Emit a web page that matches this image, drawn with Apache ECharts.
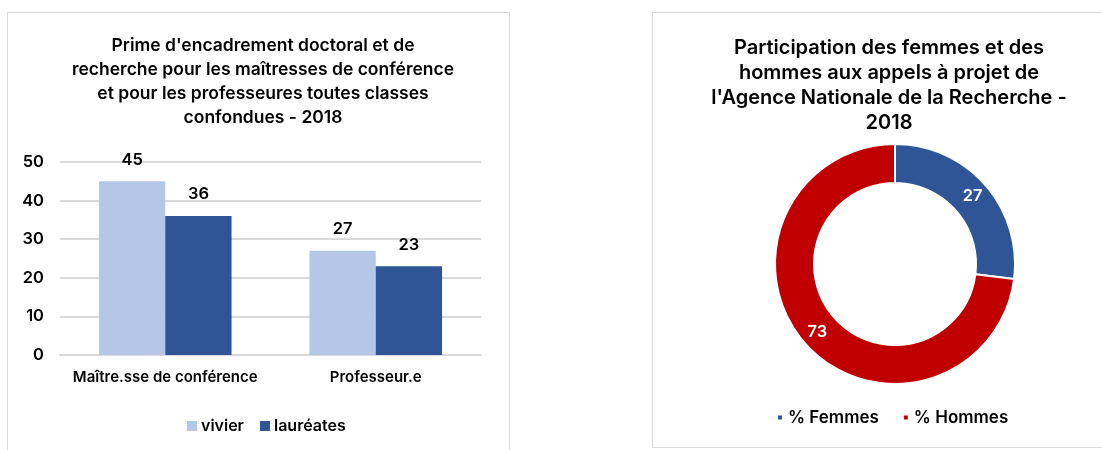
<!DOCTYPE html>
<html><head><meta charset="utf-8">
<script src="https://cdn.jsdelivr.net/npm/echarts@6/dist/echarts.min.js"></script>
<style>html,body{margin:0;padding:0;background:#fff}#c{width:1102px;height:450px}</style>
</head><body><div id="c"></div>
<script>
const barCategories = ['Maître.sse de conférence', 'Professeur.e'];
const vivier = [45, 27];
const laureates = [36, 23];
const yTicks = [0, 10, 20, 30, 40, 50];
const pieNames = ['% Femmes', '% Hommes'];
const pieValues = [27, 73];

const FONT = 'Inter, Roboto, "Liberation Sans", Arial, sans-serif';
const W = 600;
const chart = echarts.init(document.getElementById('c'));
chart.setOption({
  animation: false,
  textStyle: { fontFamily: FONT, fontWeight: W },
  graphic: [
    { type: 'rect', shape: { x: 7.5, y: 12.5, width: 502, height: 460 }, style: { fill: null, stroke: '#d9d9d9', lineWidth: 1 } },
    { type: 'rect', shape: { x: 652.5, y: 12.5, width: 470, height: 435 }, style: { fill: null, stroke: '#d9d9d9', lineWidth: 1 } }
  ],
  title: [
    { text: "Prime d'encadrement doctoral et de\nrecherche pour les maîtresses de conférence\net pour les professeures toutes classes\nconfondues - 2018",
      left: 258, top: 29, textAlign: 'center',
      textStyle: { fontSize: 17.5, fontWeight: 600, color: '#000', lineHeight: 24, fontFamily: FONT } },
    { text: "Participation des femmes et des\nhommes aux appels à projet de\nl'Agence Nationale de la Recherche -\n2018",
      left: 884, top: 30, textAlign: 'center',
      textStyle: { fontSize: 20, fontWeight: 600, color: '#000', lineHeight: 25, fontFamily: FONT } }
  ],
  legend: [
    { data: ['vivier', 'lauréates'], left: 182, top: 413, itemWidth: 10, itemHeight: 10, itemGap: 16,
      icon: 'rect', textStyle: { fontSize: 16, fontWeight: W, color: '#000', fontFamily: FONT, padding: [0, 0, 0, -1] } },
    { data: pieNames, left: 771, top: 404, itemWidth: 6, itemHeight: 6, itemGap: 23,
      icon: 'rect', textStyle: { fontSize: 17, fontWeight: W, color: '#000', fontFamily: FONT } }
  ],
  grid: { left: 60, right: 1102 - 481, top: 162, height: 193 },
  xAxis: { type: 'category', data: barCategories,
    axisLine: { show: true, lineStyle: { color: '#d9d9d9', width: 2 } }, axisTick: { show: false },
    axisLabel: { interval: 0, fontSize: 15, fontWeight: W, color: '#000', margin: 15, fontFamily: FONT } },
  yAxis: { type: 'value', min: yTicks[0], max: yTicks[yTicks.length - 1], interval: 10,
    axisLine: { show: false }, axisTick: { show: false },
    splitLine: { lineStyle: { color: '#d9d9d9', width: 2 } },
    axisLabel: { fontSize: 16.5, fontWeight: W, color: '#000', margin: 16, fontFamily: FONT } },
  series: [
    { name: 'vivier', type: 'bar', data: vivier, barGap: '0%', barCategoryGap: '37%',
      itemStyle: { color: '#B4C7E7' },
      label: { show: true, position: 'top', distance: 13, fontSize: 16.5, fontWeight: W, color: '#000', fontFamily: FONT } },
    { name: 'lauréates', type: 'bar', data: laureates,
      itemStyle: { color: '#2F5597' },
      label: { show: true, position: 'top', distance: 13, fontSize: 16.5, fontWeight: W, color: '#000', fontFamily: FONT } },
    { name: 'pie', type: 'pie', center: [895, 264], radius: [81, 120], startAngle: 90, clockwise: true,
      data: pieNames.map((n, i) => ({ name: n, value: pieValues[i], itemStyle: { color: ['#2F5597', '#C00000'][i] } })),
      itemStyle: { borderColor: '#fff', borderWidth: 2 },
      label: { show: true, position: 'inside', formatter: '{c}', color: '#fff', fontSize: 16.5, fontWeight: W, fontFamily: FONT },
      labelLine: { show: false }, emphasis: { disabled: true } }
  ]
});
</script></body></html>
